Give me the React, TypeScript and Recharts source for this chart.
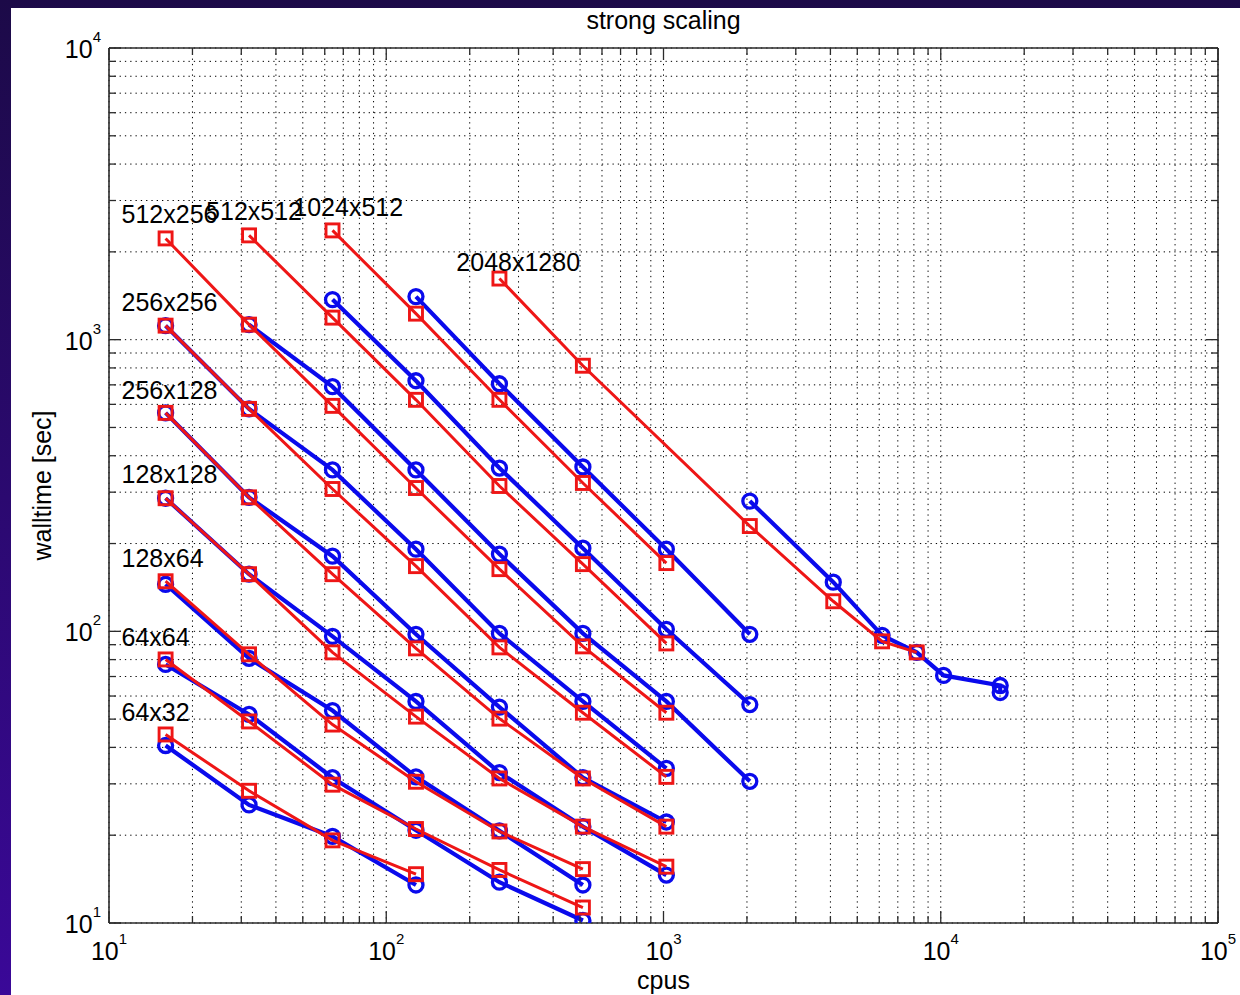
import React from 'react';
import { ScatterChart, Scatter, XAxis, YAxis, CartesianGrid, ReferenceLine } from 'recharts';

// ---------- tick values ----------
const xTicks = [
  10, 20, 30, 40, 50, 60, 70, 80, 90,
  100, 200, 300, 400, 500, 600, 700, 800, 900,
  1000, 2000, 3000, 4000, 5000, 6000, 7000, 8000, 9000,
  10000, 20000, 30000, 40000, 50000, 60000, 70000, 80000, 90000,
  100000,
];
const yTicks = [
  10, 20, 30, 40, 50, 60, 70, 80, 90,
  100, 200, 300, 400, 500, 600, 700, 800, 900,
  1000, 2000, 3000, 4000, 5000, 6000, 7000, 8000, 9000,
  10000,
];

// ---------- data (cpus, walltime [sec]) ----------
const cpus64x32 = [16, 32, 64, 128];
const red64x32 = [44.3, 28.4, 19.2, 14.7];
const blue64x32 = [40.6, 25.4, 19.8, 13.5];

const cpus64x64 = [16, 32, 64, 128, 256, 512];
const red64x64 = [80.1, 49.1, 29.8, 21.0, 15.2, 11.3];
const blue64x64 = [77.0, 51.9, 31.5, 20.8, 13.8, 10.2];

const cpus128x64 = [16, 32, 64, 128, 256, 512];
const red128x64 = [148.5, 83.4, 47.9, 30.5, 20.6, 15.3];
const blue128x64 = [145, 80.8, 53.5, 31.7, 20.7, 13.5];

const cpus128x128 = [16, 32, 64, 128, 256, 512, 1024];
const red128x128 = [286, 157, 84.7, 51.0, 31.3, 21.4, 15.6];
const blue128x128 = [286, 157, 96.1, 57.5, 32.8, 21.4, 14.6];

const cpus256x128 = [16, 32, 64, 128, 256, 512, 1024];
const red256x128 = [561, 288, 157, 87.4, 50.2, 31.3, 21.4];
const blue256x128 = [561, 288, 181, 97.7, 55.0, 31.5, 22.2];

const cpus256x256 = [16, 32, 64, 128, 256, 512, 1024];
const red256x256 = [1117, 579, 307.6, 167.3, 88.1, 52.6, 31.7];
const blue256x256 = [1117, 579, 357.6, 191.3, 98.4, 57.5, 33.9];

const cpusRed512x256 = [16, 32, 64, 128, 256, 512, 1024];
const red512x256 = [2224, 1126, 593, 310, 163.4, 88.8, 52.6];
const cpusBlue512x256 = [32, 64, 128, 256, 512, 1024, 2048];
const blue512x256 = [1126, 690, 357.6, 184, 98.4, 57.5, 30.6];

const cpusRed512x512 = [32, 64, 128, 256, 512, 1024];
const red512x512 = [2278, 1190, 622, 315, 170, 90.9];
const cpusBlue512x512 = [64, 128, 256, 512, 1024, 2048];
const blue512x512 = [1372, 723, 363, 192.8, 101.6, 56.1];

const cpusRed1024x512 = [64, 128, 256, 512, 1024];
const red1024x512 = [2369, 1228, 622, 322.6, 171.4];
const cpusBlue1024x512 = [128, 256, 512, 1024, 2048];
const blue1024x512 = [1405, 706, 366, 191.3, 97.7];

const cpusRed2048x1280 = [256, 512, 2048, 4096, 6144, 8192];
const red2048x1280 = [1620, 814, 229.6, 126.8, 92.4, 84.7];
const cpusBlue2048x1280 = [2048, 4096, 6144, 8192, 10240, 16384, 16384];
const blue2048x1280 = [279.6, 147.4, 96.9, 84.7, 70.6, 65.2, 61.7];

// ---------- annotation labels (left edge x, vertical centre y in data units) ----------
const labelNames = ['512x256', '512x512', '1024x512', '2048x1280', '256x256', '256x128', '128x128', '128x64', '64x64', '64x32'];
const labelX = [11.1, 22.4, 46.2, 179, 11.1, 11.1, 11.1, 11.1, 11.1, 11.1];
const labelY = [2689, 2754, 2842, 1839, 1351, 673, 346, 178, 95.4, 53.1];

// ---------- helpers ----------
const zip = (xs: number[], ys: number[]) => xs.map((x, i) => ({ x, y: ys[i] }));

const blueSeries = [
  zip(cpus64x32, blue64x32),
  zip(cpus64x64, blue64x64),
  zip(cpus128x64, blue128x64),
  zip(cpus128x128, blue128x128),
  zip(cpus256x128, blue256x128),
  zip(cpus256x256, blue256x256),
  zip(cpusBlue512x256, blue512x256),
  zip(cpusBlue512x512, blue512x512),
  zip(cpusBlue1024x512, blue1024x512),
  zip(cpusBlue2048x1280, blue2048x1280),
];
const redSeries = [
  zip(cpus64x32, red64x32),
  zip(cpus64x64, red64x64),
  zip(cpus128x64, red128x64),
  zip(cpus128x128, red128x128),
  zip(cpus256x128, red256x128),
  zip(cpus256x256, red256x256),
  zip(cpusRed512x256, red512x256),
  zip(cpusRed512x512, red512x512),
  zip(cpusRed1024x512, red1024x512),
  zip(cpusRed2048x1280, red2048x1280),
];
const labelData = labelNames.map((name, i) => ({ x: labelX[i], y: labelY[i], name }));

const FONT = '"Liberation Sans", Arial, Helvetica, sans-serif';
const BLUE = '#0a0aec';
const RED = '#ee1616';
const AXIS = '#2b2b2b';
const W = 1240;
const H = 995;
const PLOT_TOP = 48;
const PLOT_LEFT = 109;
const PLOT_RIGHT = 1218;
const X_AXIS_H = 72;
const PLOT_BOTTOM = H - X_AXIS_H;

const isMajor = (v: number) => {
  const e = Math.log10(v);
  return Math.abs(e - Math.round(e)) < 1e-6;
};

const XTick = (props: any) => {
  const { x, payload } = props;
  const v = payload.value;
  const major = isMajor(v);
  const len = major ? 12 : 7;
  const e = Math.round(Math.log10(v));
  return (
    <g>
      <line x1={x} y1={PLOT_BOTTOM} x2={x} y2={PLOT_BOTTOM - len} stroke={AXIS} strokeWidth={1.3} />
      <line x1={x} y1={PLOT_TOP} x2={x} y2={PLOT_TOP + len} stroke={AXIS} strokeWidth={1.3} />
      {major && (
        <text x={x} y={960} textAnchor="middle" fontFamily={FONT} fontSize={25} fill="#000">
          <tspan>10</tspan>
          <tspan fontSize={15} dy={-16}>{e}</tspan>
        </text>
      )}
    </g>
  );
};

const YTick = (props: any) => {
  const { y, payload } = props;
  const v = payload.value;
  const major = isMajor(v);
  const len = major ? 12 : 7;
  const e = Math.round(Math.log10(v));
  return (
    <g>
      <line x1={PLOT_LEFT} y1={y} x2={PLOT_LEFT + len} y2={y} stroke={AXIS} strokeWidth={1.3} />
      <line x1={PLOT_RIGHT} y1={y} x2={PLOT_RIGHT - len} y2={y} stroke={AXIS} strokeWidth={1.3} />
      {major && (
        <text x={101} y={y + 10} textAnchor="end" fontFamily={FONT} fontSize={25} fill="#000">
          <tspan>10</tspan>
          <tspan fontSize={15} dy={-16}>{e}</tspan>
        </text>
      )}
    </g>
  );
};

const BlueCircle = (p: any) => (
  <circle cx={p.cx} cy={p.cy} r={7} fill="none" stroke={BLUE} strokeWidth={3.3} />
);
const RedSquare = (p: any) => (
  <rect x={p.cx - 6.5} y={p.cy - 6.5} width={13} height={13} fill="none" stroke={RED} strokeWidth={2.9} />
);
const LabelText = (p: any) => (
  <text x={p.cx} y={p.cy + 9} fontFamily={FONT} fontSize={25} fill="#000">
    {(p.payload && p.payload.name) || p.name}
  </text>
);

export default function App() {
  return (
    <div style={{ position: 'relative', width: W, height: H, background: 'linear-gradient(to bottom, #1c0a48, #3a0898)', overflow: 'hidden' }}>
      <style>{'body{margin:0;background:#fff}'}</style>
      <div style={{ position: 'absolute', left: 11, top: 8, width: W - 11, height: H - 8, background: '#fff' }} />
      <div style={{ position: 'absolute', left: 0, top: 0 }}>
        <ScatterChart width={W} height={H} margin={{ top: PLOT_TOP, right: W - PLOT_RIGHT, bottom: 0, left: 0 }}>
          <CartesianGrid stroke="#000" strokeDasharray="1.3 4" strokeWidth={1} />
          <XAxis
            dataKey="x"
            type="number"
            scale="log"
            domain={[10, 100000]}
            allowDataOverflow
            ticks={xTicks}
            interval={0}
            tick={XTick}
            tickLine={false}
            axisLine={false}
            height={X_AXIS_H}
            label={{
              content: (lp: any) => (
                <text
                  x={lp.viewBox.x + lp.viewBox.width / 2}
                  y={lp.viewBox.y + 66}
                  textAnchor="middle"
                  fontFamily={FONT}
                  fontSize={25}
                  fill="#000"
                >
                  cpus
                </text>
              ),
            }}
          />
          <YAxis
            dataKey="y"
            type="number"
            scale="log"
            domain={[10, 10000]}
            allowDataOverflow
            ticks={yTicks}
            interval={0}
            tick={YTick}
            tickLine={false}
            axisLine={false}
            width={PLOT_LEFT}
            label={{
              content: (lp: any) => {
                const cx = 42;
                const cy = lp.viewBox.y + lp.viewBox.height / 2;
                return (
                  <text
                    x={cx}
                    y={cy}
                    transform={`rotate(-90 ${cx} ${cy})`}
                    textAnchor="middle"
                    dominantBaseline="central"
                    fontFamily={FONT}
                    fontSize={25}
                    fill="#000"
                  >
                    walltime [sec]
                  </text>
                );
              },
            }}
          />
          <ReferenceLine y={10} stroke={AXIS} strokeWidth={1.6} />
          <ReferenceLine y={10000} stroke={AXIS} strokeWidth={1.6} />
          <ReferenceLine x={10} stroke={AXIS} strokeWidth={1.6} />
          <ReferenceLine x={100000} stroke={AXIS} strokeWidth={1.6} />
          {blueSeries.map((d, i) => (
            <Scatter
              key={`b${i}`}
              data={d}
              line={{ stroke: BLUE, strokeWidth: 4.2 }}
              shape={BlueCircle}
              isAnimationActive={false}
            />
          ))}
          {redSeries.map((d, i) => (
            <Scatter
              key={`r${i}`}
              data={d}
              line={{ stroke: RED, strokeWidth: 3 }}
              shape={RedSquare}
              isAnimationActive={false}
            />
          ))}
          <Scatter data={labelData} shape={LabelText} isAnimationActive={false} />
        </ScatterChart>
      </div>
      <svg width={W} height={H} style={{ position: 'absolute', left: 0, top: 0, pointerEvents: 'none' }}>
        <text x={(PLOT_LEFT + PLOT_RIGHT) / 2} y={29} textAnchor="middle" fontFamily={FONT} fontSize={25} fill="#000">
          strong scaling
        </text>
      </svg>
    </div>
  );
}
